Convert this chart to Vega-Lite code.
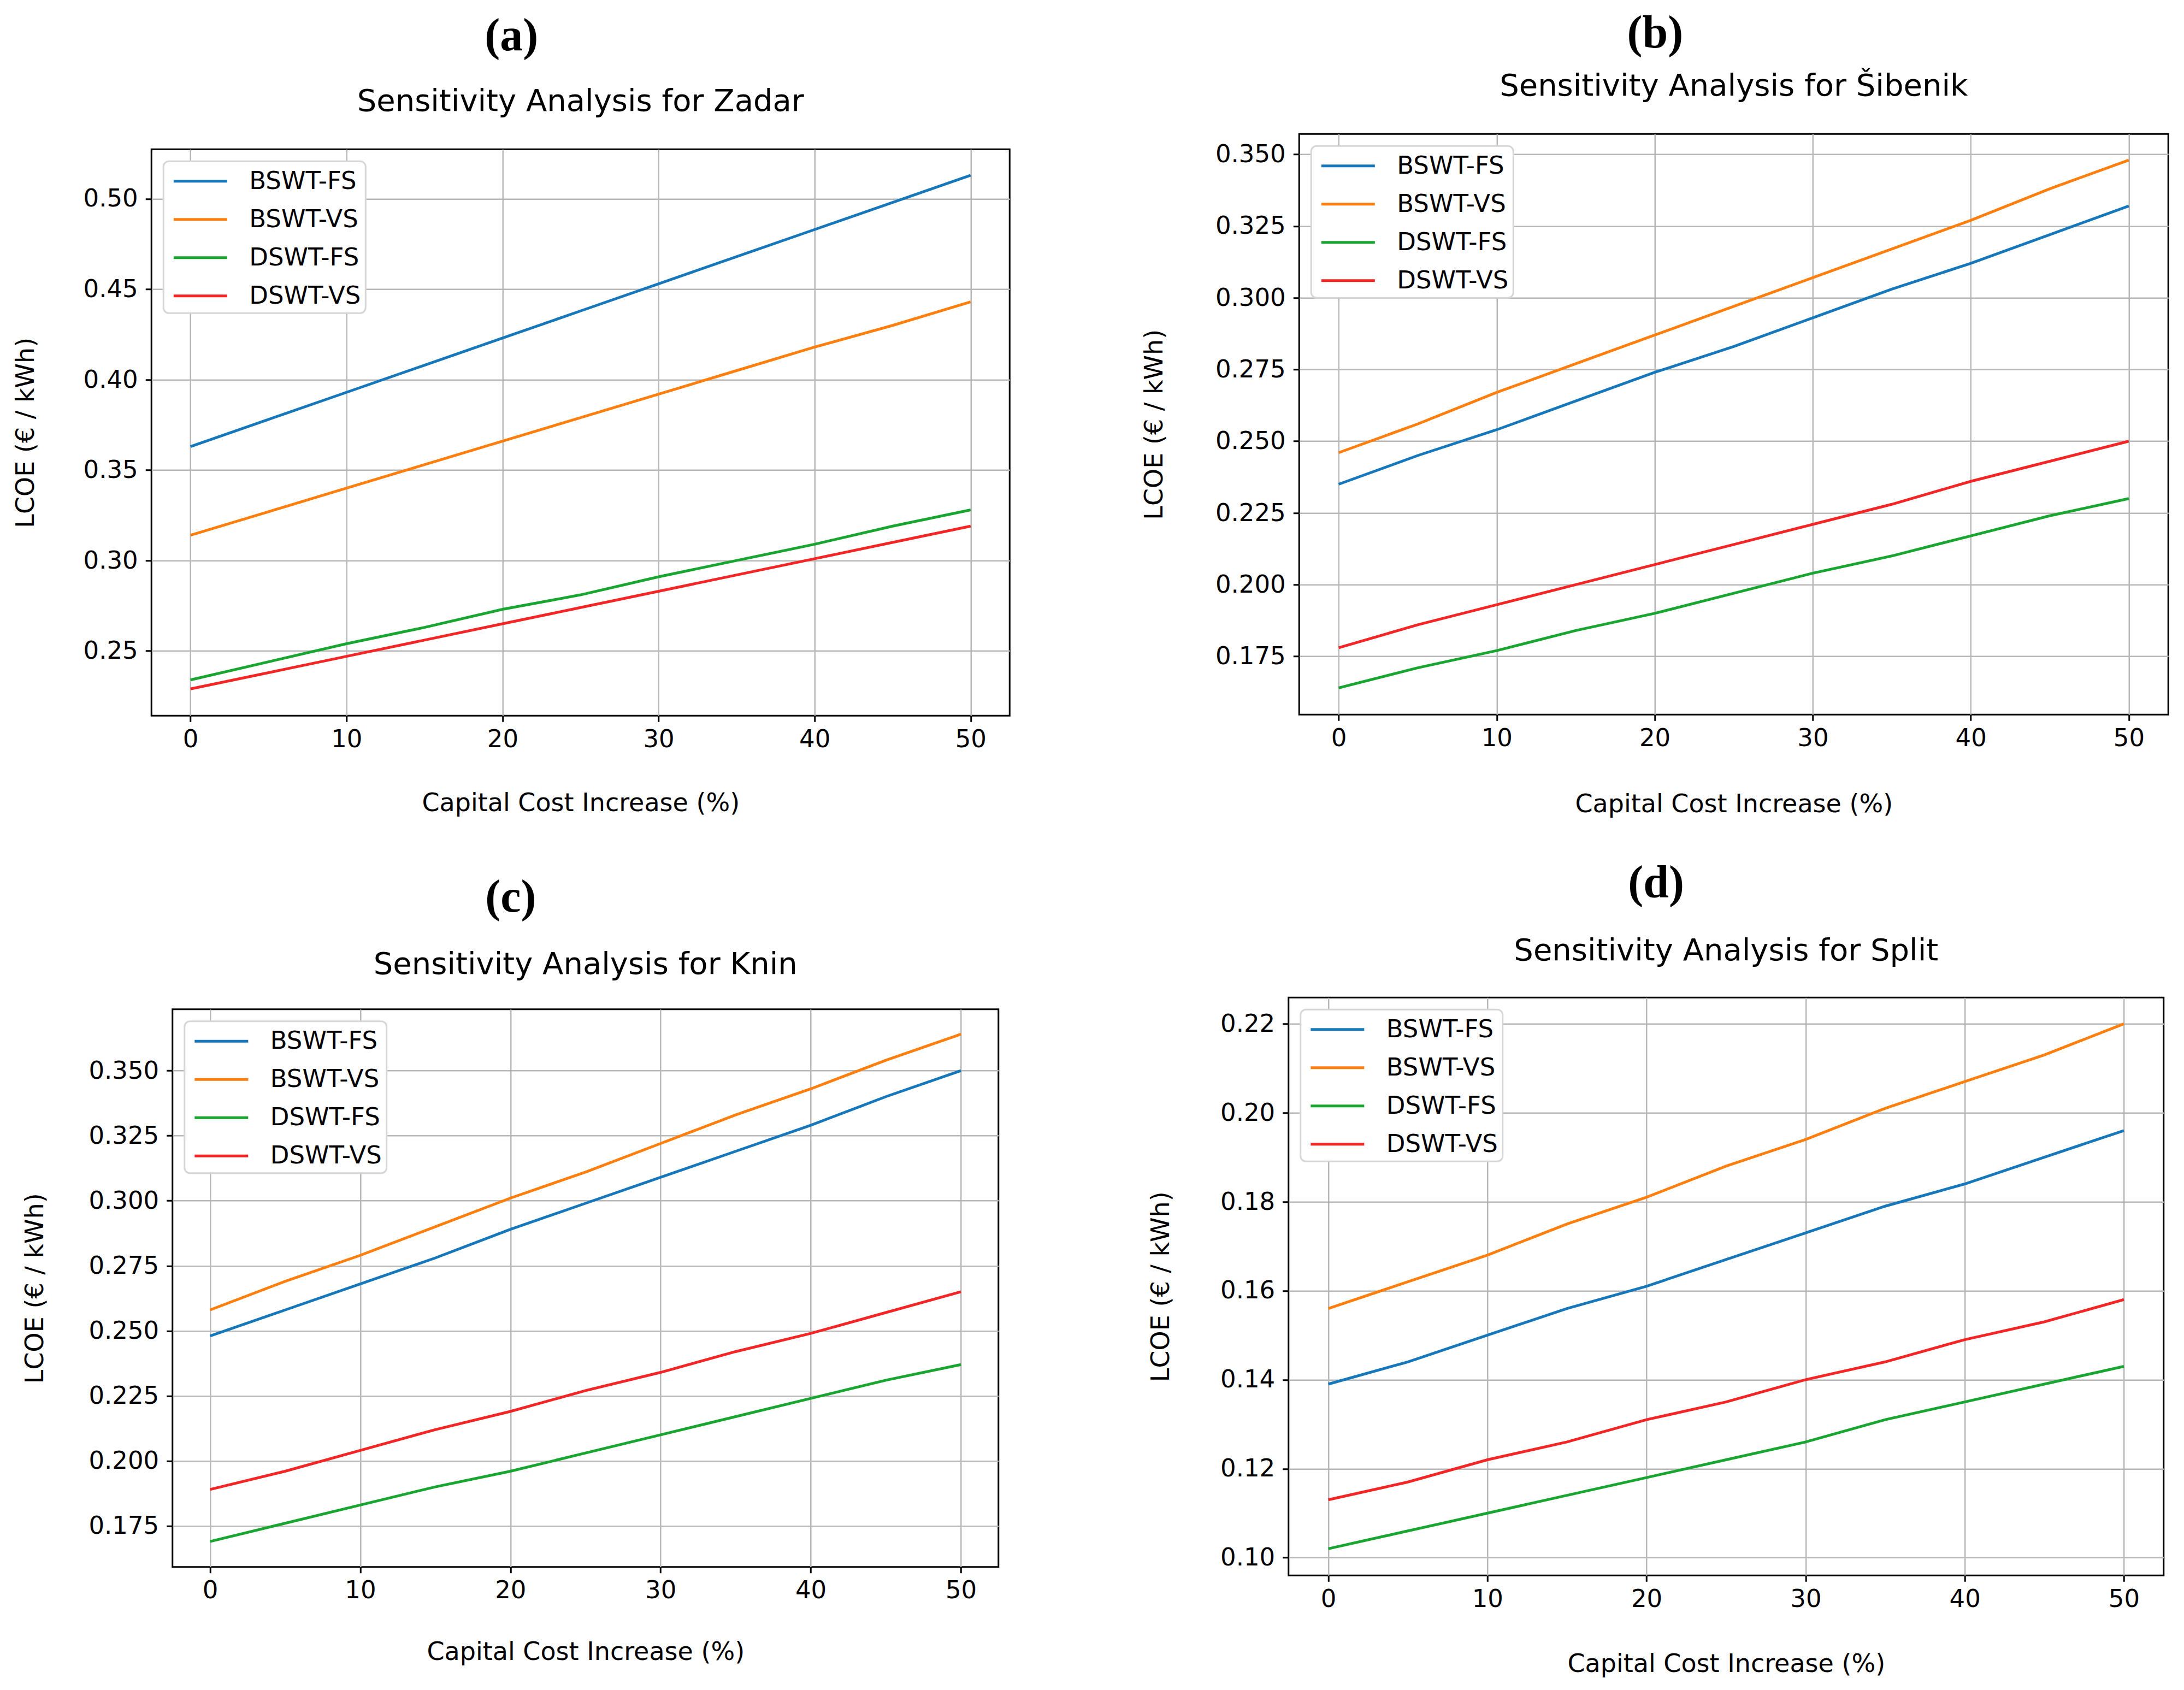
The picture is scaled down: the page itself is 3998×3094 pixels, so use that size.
{
  "$schema": "https://vega.github.io/schema/vega-lite/v6.json",
  "description": "LCOE sensitivity to capital cost increase for four Croatian sites.",
  "background": "#ffffff",
  "padding": {"left": 22, "top": 19, "right": 0, "bottom": 0},
  "config": {
    "font": "DejaVu Sans",
    "view": {"stroke": "#000000", "strokeWidth": 3},
    "axis": {
      "domain": false,
      "grid": true,
      "gridColor": "#b8b8b8",
      "gridWidth": 2.5,
      "tickColor": "#000000",
      "tickSize": 11,
      "tickWidth": 3,
      "labelFont": "DejaVu Sans",
      "labelFontSize": 45,
      "labelColor": "#000000",
      "titleFont": "DejaVu Sans",
      "titleFontSize": 46,
      "titleFontWeight": "normal",
      "titleColor": "#000000"
    },
    "axisX": {"labelPadding": 10, "labelFlush": false, "titlePadding": 70},
    "axisY": {"labelPadding": 14, "labelFlush": false},
    "legend": {
      "orient": "top-left",
      "offset": 22,
      "labelFont": "DejaVu Sans",
      "labelFontSize": 45,
      "labelColor": "#000000",
      "labelLimit": 500,
      "labelOffset": 92,
      "labelExpr": "datum.label + ' '",
      "symbolType": "M-0.69,0L3.08,0",
      "symbolSize": 2704,
      "symbolStrokeWidth": 5,
      "padding": 8,
      "rowPadding": 18,
      "fillColor": "#ffffff",
      "strokeColor": "#d6d6d6",
      "strokeWidth": 3,
      "cornerRadius": 10
    },
    "title": {"font": "DejaVu Sans", "fontSize": 56, "fontWeight": "normal", "color": "#000000", "anchor": "middle"}
  },
  "datasets": {
    "zadar": [
      {"increase": 0, "series": "BSWT-FS", "lcoe": 0.363}, {"increase": 5, "series": "BSWT-FS", "lcoe": 0.378}, {"increase": 10, "series": "BSWT-FS", "lcoe": 0.393}, {"increase": 15, "series": "BSWT-FS", "lcoe": 0.408}, {"increase": 20, "series": "BSWT-FS", "lcoe": 0.423}, {"increase": 25, "series": "BSWT-FS", "lcoe": 0.438}, {"increase": 30, "series": "BSWT-FS", "lcoe": 0.453}, {"increase": 35, "series": "BSWT-FS", "lcoe": 0.468}, {"increase": 40, "series": "BSWT-FS", "lcoe": 0.483}, {"increase": 45, "series": "BSWT-FS", "lcoe": 0.498}, {"increase": 50, "series": "BSWT-FS", "lcoe": 0.513},
      {"increase": 0, "series": "BSWT-VS", "lcoe": 0.314}, {"increase": 5, "series": "BSWT-VS", "lcoe": 0.327}, {"increase": 10, "series": "BSWT-VS", "lcoe": 0.340}, {"increase": 15, "series": "BSWT-VS", "lcoe": 0.353}, {"increase": 20, "series": "BSWT-VS", "lcoe": 0.366}, {"increase": 25, "series": "BSWT-VS", "lcoe": 0.379}, {"increase": 30, "series": "BSWT-VS", "lcoe": 0.392}, {"increase": 35, "series": "BSWT-VS", "lcoe": 0.405}, {"increase": 40, "series": "BSWT-VS", "lcoe": 0.418}, {"increase": 45, "series": "BSWT-VS", "lcoe": 0.430}, {"increase": 50, "series": "BSWT-VS", "lcoe": 0.443},
      {"increase": 0, "series": "DSWT-FS", "lcoe": 0.234}, {"increase": 5, "series": "DSWT-FS", "lcoe": 0.244}, {"increase": 10, "series": "DSWT-FS", "lcoe": 0.254}, {"increase": 15, "series": "DSWT-FS", "lcoe": 0.263}, {"increase": 20, "series": "DSWT-FS", "lcoe": 0.273}, {"increase": 25, "series": "DSWT-FS", "lcoe": 0.281}, {"increase": 30, "series": "DSWT-FS", "lcoe": 0.291}, {"increase": 35, "series": "DSWT-FS", "lcoe": 0.300}, {"increase": 40, "series": "DSWT-FS", "lcoe": 0.309}, {"increase": 45, "series": "DSWT-FS", "lcoe": 0.319}, {"increase": 50, "series": "DSWT-FS", "lcoe": 0.328},
      {"increase": 0, "series": "DSWT-VS", "lcoe": 0.229}, {"increase": 5, "series": "DSWT-VS", "lcoe": 0.238}, {"increase": 10, "series": "DSWT-VS", "lcoe": 0.247}, {"increase": 15, "series": "DSWT-VS", "lcoe": 0.256}, {"increase": 20, "series": "DSWT-VS", "lcoe": 0.265}, {"increase": 25, "series": "DSWT-VS", "lcoe": 0.274}, {"increase": 30, "series": "DSWT-VS", "lcoe": 0.283}, {"increase": 35, "series": "DSWT-VS", "lcoe": 0.292}, {"increase": 40, "series": "DSWT-VS", "lcoe": 0.301}, {"increase": 45, "series": "DSWT-VS", "lcoe": 0.310}, {"increase": 50, "series": "DSWT-VS", "lcoe": 0.319}
    ],
    "sibenik": [
      {"increase": 0, "series": "BSWT-FS", "lcoe": 0.235}, {"increase": 5, "series": "BSWT-FS", "lcoe": 0.245}, {"increase": 10, "series": "BSWT-FS", "lcoe": 0.254}, {"increase": 15, "series": "BSWT-FS", "lcoe": 0.264}, {"increase": 20, "series": "BSWT-FS", "lcoe": 0.274}, {"increase": 25, "series": "BSWT-FS", "lcoe": 0.283}, {"increase": 30, "series": "BSWT-FS", "lcoe": 0.293}, {"increase": 35, "series": "BSWT-FS", "lcoe": 0.303}, {"increase": 40, "series": "BSWT-FS", "lcoe": 0.312}, {"increase": 45, "series": "BSWT-FS", "lcoe": 0.322}, {"increase": 50, "series": "BSWT-FS", "lcoe": 0.332},
      {"increase": 0, "series": "BSWT-VS", "lcoe": 0.246}, {"increase": 5, "series": "BSWT-VS", "lcoe": 0.256}, {"increase": 10, "series": "BSWT-VS", "lcoe": 0.267}, {"increase": 15, "series": "BSWT-VS", "lcoe": 0.277}, {"increase": 20, "series": "BSWT-VS", "lcoe": 0.287}, {"increase": 25, "series": "BSWT-VS", "lcoe": 0.297}, {"increase": 30, "series": "BSWT-VS", "lcoe": 0.307}, {"increase": 35, "series": "BSWT-VS", "lcoe": 0.317}, {"increase": 40, "series": "BSWT-VS", "lcoe": 0.327}, {"increase": 45, "series": "BSWT-VS", "lcoe": 0.338}, {"increase": 50, "series": "BSWT-VS", "lcoe": 0.348},
      {"increase": 0, "series": "DSWT-FS", "lcoe": 0.164}, {"increase": 5, "series": "DSWT-FS", "lcoe": 0.171}, {"increase": 10, "series": "DSWT-FS", "lcoe": 0.177}, {"increase": 15, "series": "DSWT-FS", "lcoe": 0.184}, {"increase": 20, "series": "DSWT-FS", "lcoe": 0.190}, {"increase": 25, "series": "DSWT-FS", "lcoe": 0.197}, {"increase": 30, "series": "DSWT-FS", "lcoe": 0.204}, {"increase": 35, "series": "DSWT-FS", "lcoe": 0.210}, {"increase": 40, "series": "DSWT-FS", "lcoe": 0.217}, {"increase": 45, "series": "DSWT-FS", "lcoe": 0.224}, {"increase": 50, "series": "DSWT-FS", "lcoe": 0.230},
      {"increase": 0, "series": "DSWT-VS", "lcoe": 0.178}, {"increase": 5, "series": "DSWT-VS", "lcoe": 0.186}, {"increase": 10, "series": "DSWT-VS", "lcoe": 0.193}, {"increase": 15, "series": "DSWT-VS", "lcoe": 0.200}, {"increase": 20, "series": "DSWT-VS", "lcoe": 0.207}, {"increase": 25, "series": "DSWT-VS", "lcoe": 0.214}, {"increase": 30, "series": "DSWT-VS", "lcoe": 0.221}, {"increase": 35, "series": "DSWT-VS", "lcoe": 0.228}, {"increase": 40, "series": "DSWT-VS", "lcoe": 0.236}, {"increase": 45, "series": "DSWT-VS", "lcoe": 0.243}, {"increase": 50, "series": "DSWT-VS", "lcoe": 0.250}
    ],
    "knin": [
      {"increase": 0, "series": "BSWT-FS", "lcoe": 0.248}, {"increase": 5, "series": "BSWT-FS", "lcoe": 0.258}, {"increase": 10, "series": "BSWT-FS", "lcoe": 0.268}, {"increase": 15, "series": "BSWT-FS", "lcoe": 0.278}, {"increase": 20, "series": "BSWT-FS", "lcoe": 0.289}, {"increase": 25, "series": "BSWT-FS", "lcoe": 0.299}, {"increase": 30, "series": "BSWT-FS", "lcoe": 0.309}, {"increase": 35, "series": "BSWT-FS", "lcoe": 0.319}, {"increase": 40, "series": "BSWT-FS", "lcoe": 0.329}, {"increase": 45, "series": "BSWT-FS", "lcoe": 0.340}, {"increase": 50, "series": "BSWT-FS", "lcoe": 0.350},
      {"increase": 0, "series": "BSWT-VS", "lcoe": 0.258}, {"increase": 5, "series": "BSWT-VS", "lcoe": 0.269}, {"increase": 10, "series": "BSWT-VS", "lcoe": 0.279}, {"increase": 15, "series": "BSWT-VS", "lcoe": 0.290}, {"increase": 20, "series": "BSWT-VS", "lcoe": 0.301}, {"increase": 25, "series": "BSWT-VS", "lcoe": 0.311}, {"increase": 30, "series": "BSWT-VS", "lcoe": 0.322}, {"increase": 35, "series": "BSWT-VS", "lcoe": 0.333}, {"increase": 40, "series": "BSWT-VS", "lcoe": 0.343}, {"increase": 45, "series": "BSWT-VS", "lcoe": 0.354}, {"increase": 50, "series": "BSWT-VS", "lcoe": 0.364},
      {"increase": 0, "series": "DSWT-FS", "lcoe": 0.169}, {"increase": 5, "series": "DSWT-FS", "lcoe": 0.176}, {"increase": 10, "series": "DSWT-FS", "lcoe": 0.183}, {"increase": 15, "series": "DSWT-FS", "lcoe": 0.190}, {"increase": 20, "series": "DSWT-FS", "lcoe": 0.196}, {"increase": 25, "series": "DSWT-FS", "lcoe": 0.203}, {"increase": 30, "series": "DSWT-FS", "lcoe": 0.210}, {"increase": 35, "series": "DSWT-FS", "lcoe": 0.217}, {"increase": 40, "series": "DSWT-FS", "lcoe": 0.224}, {"increase": 45, "series": "DSWT-FS", "lcoe": 0.231}, {"increase": 50, "series": "DSWT-FS", "lcoe": 0.237},
      {"increase": 0, "series": "DSWT-VS", "lcoe": 0.189}, {"increase": 5, "series": "DSWT-VS", "lcoe": 0.196}, {"increase": 10, "series": "DSWT-VS", "lcoe": 0.204}, {"increase": 15, "series": "DSWT-VS", "lcoe": 0.212}, {"increase": 20, "series": "DSWT-VS", "lcoe": 0.219}, {"increase": 25, "series": "DSWT-VS", "lcoe": 0.227}, {"increase": 30, "series": "DSWT-VS", "lcoe": 0.234}, {"increase": 35, "series": "DSWT-VS", "lcoe": 0.242}, {"increase": 40, "series": "DSWT-VS", "lcoe": 0.249}, {"increase": 45, "series": "DSWT-VS", "lcoe": 0.257}, {"increase": 50, "series": "DSWT-VS", "lcoe": 0.265}
    ],
    "split": [
      {"increase": 0, "series": "BSWT-FS", "lcoe": 0.139}, {"increase": 5, "series": "BSWT-FS", "lcoe": 0.144}, {"increase": 10, "series": "BSWT-FS", "lcoe": 0.150}, {"increase": 15, "series": "BSWT-FS", "lcoe": 0.156}, {"increase": 20, "series": "BSWT-FS", "lcoe": 0.161}, {"increase": 25, "series": "BSWT-FS", "lcoe": 0.167}, {"increase": 30, "series": "BSWT-FS", "lcoe": 0.173}, {"increase": 35, "series": "BSWT-FS", "lcoe": 0.179}, {"increase": 40, "series": "BSWT-FS", "lcoe": 0.184}, {"increase": 45, "series": "BSWT-FS", "lcoe": 0.190}, {"increase": 50, "series": "BSWT-FS", "lcoe": 0.196},
      {"increase": 0, "series": "BSWT-VS", "lcoe": 0.156}, {"increase": 5, "series": "BSWT-VS", "lcoe": 0.162}, {"increase": 10, "series": "BSWT-VS", "lcoe": 0.168}, {"increase": 15, "series": "BSWT-VS", "lcoe": 0.175}, {"increase": 20, "series": "BSWT-VS", "lcoe": 0.181}, {"increase": 25, "series": "BSWT-VS", "lcoe": 0.188}, {"increase": 30, "series": "BSWT-VS", "lcoe": 0.194}, {"increase": 35, "series": "BSWT-VS", "lcoe": 0.201}, {"increase": 40, "series": "BSWT-VS", "lcoe": 0.207}, {"increase": 45, "series": "BSWT-VS", "lcoe": 0.213}, {"increase": 50, "series": "BSWT-VS", "lcoe": 0.220},
      {"increase": 0, "series": "DSWT-FS", "lcoe": 0.102}, {"increase": 5, "series": "DSWT-FS", "lcoe": 0.106}, {"increase": 10, "series": "DSWT-FS", "lcoe": 0.110}, {"increase": 15, "series": "DSWT-FS", "lcoe": 0.114}, {"increase": 20, "series": "DSWT-FS", "lcoe": 0.118}, {"increase": 25, "series": "DSWT-FS", "lcoe": 0.122}, {"increase": 30, "series": "DSWT-FS", "lcoe": 0.126}, {"increase": 35, "series": "DSWT-FS", "lcoe": 0.131}, {"increase": 40, "series": "DSWT-FS", "lcoe": 0.135}, {"increase": 45, "series": "DSWT-FS", "lcoe": 0.139}, {"increase": 50, "series": "DSWT-FS", "lcoe": 0.143},
      {"increase": 0, "series": "DSWT-VS", "lcoe": 0.113}, {"increase": 5, "series": "DSWT-VS", "lcoe": 0.117}, {"increase": 10, "series": "DSWT-VS", "lcoe": 0.122}, {"increase": 15, "series": "DSWT-VS", "lcoe": 0.126}, {"increase": 20, "series": "DSWT-VS", "lcoe": 0.131}, {"increase": 25, "series": "DSWT-VS", "lcoe": 0.135}, {"increase": 30, "series": "DSWT-VS", "lcoe": 0.140}, {"increase": 35, "series": "DSWT-VS", "lcoe": 0.144}, {"increase": 40, "series": "DSWT-VS", "lcoe": 0.149}, {"increase": 45, "series": "DSWT-VS", "lcoe": 0.153}, {"increase": 50, "series": "DSWT-VS", "lcoe": 0.158}
    ]
  },
  "center": true,
  "spacing": 52,
  "resolve": {"scale": {"color": "independent"}, "legend": {"color": "independent"}},
  "vconcat": [
    {
      "title": {"text": " ", "orient": "right", "fontSize": 1, "offset": 29},
      "center": true,
      "spacing": 238,
      "resolve": {"scale": {"color": "independent"}, "legend": {"color": "independent"}},
      "hconcat": [
        {
          "title": {"text": "(a)", "font": "Liberation Serif", "fontWeight": "bold", "fontSize": 84, "anchor": "middle", "frame": "bounds", "offset": 47},
          "resolve": {"scale": {"color": "independent"}, "legend": {"color": "independent"}},
          "vconcat": [
            {
              "width": 1571,
              "height": 1037,
              "title": {"text": "Sensitivity Analysis for Zadar", "frame": "group", "offset": 58},
              "data": {"name": "zadar"},
              "mark": {"type": "line", "strokeWidth": 5, "clip": true},
              "encoding": {
                "x": {"field": "increase", "type": "quantitative", "scale": {"domain": [-2.5, 52.5], "nice": false, "zero": false}, "axis": {"values": [0, 10, 20, 30, 40, 50], "title": "Capital Cost Increase (%)", "titlePadding": 72}},
                "y": {"field": "lcoe", "type": "quantitative", "scale": {"domain": [0.2142, 0.5274], "nice": false, "zero": false}, "axis": {"values": [0.25, 0.3, 0.35, 0.4, 0.45, 0.5], "format": ".2f", "title": "LCOE (€ / kWh)", "titlePadding": 81}},
                "color": {"field": "series", "type": "nominal", "scale": {"domain": ["BSWT-FS", "BSWT-VS", "DSWT-FS", "DSWT-VS"], "range": ["#1777bb", "#ff7f0e", "#18a530", "#f42525"]}, "legend": {"title": null, "rowPadding": 18}}
              }
            }
          ]
        },
        {
          "title": {"text": " ", "orient": "bottom", "fontSize": 1, "offset": 25},
          "resolve": {"scale": {"color": "independent"}, "legend": {"color": "independent"}},
          "vconcat": [
            {
              "title": {"text": "(b)", "font": "Liberation Serif", "fontWeight": "bold", "fontSize": 84, "anchor": "middle", "frame": "bounds", "offset": 24},
              "resolve": {"scale": {"color": "independent"}, "legend": {"color": "independent"}},
              "vconcat": [
                {
                  "width": 1591,
                  "height": 1063,
                  "title": {"text": "Sensitivity Analysis for Šibenik", "frame": "group", "offset": 58},
                  "data": {"name": "sibenik"},
                  "mark": {"type": "line", "strokeWidth": 5, "clip": true},
                  "encoding": {
                    "x": {"field": "increase", "type": "quantitative", "scale": {"domain": [-2.5, 52.5], "nice": false, "zero": false}, "axis": {"values": [0, 10, 20, 30, 40, 50], "title": "Capital Cost Increase (%)", "titlePadding": 76}},
                    "y": {"field": "lcoe", "type": "quantitative", "scale": {"domain": [0.1547, 0.3571], "nice": false, "zero": false}, "axis": {"values": [0.175, 0.2, 0.225, 0.25, 0.275, 0.3, 0.325, 0.35], "format": ".3f", "title": "LCOE (€ / kWh)", "titlePadding": 87}},
                    "color": {"field": "series", "type": "nominal", "scale": {"domain": ["BSWT-FS", "BSWT-VS", "DSWT-FS", "DSWT-VS"], "range": ["#1777bb", "#ff7f0e", "#18a530", "#f42525"]}, "legend": {"title": null, "rowPadding": 18}}
                  }
                }
              ]
            }
          ]
        }
      ]
    },
    {
      "title": {"text": " ", "orient": "left", "fontSize": 1, "offset": 13},
      "center": true,
      "spacing": 271,
      "resolve": {"scale": {"color": "independent"}, "legend": {"color": "independent"}},
      "hconcat": [
        {
          "title": {"text": "(c)", "font": "Liberation Serif", "fontWeight": "bold", "fontSize": 84, "anchor": "middle", "frame": "bounds", "offset": 49},
          "resolve": {"scale": {"color": "independent"}, "legend": {"color": "independent"}},
          "vconcat": [
            {
              "width": 1512,
              "height": 1021,
              "title": {"text": "Sensitivity Analysis for Knin", "frame": "group", "offset": 53},
              "data": {"name": "knin"},
              "mark": {"type": "line", "strokeWidth": 5, "clip": true},
              "encoding": {
                "x": {"field": "increase", "type": "quantitative", "scale": {"domain": [-2.5, 52.5], "nice": false, "zero": false}, "axis": {"values": [0, 10, 20, 30, 40, 50], "title": "Capital Cost Increase (%)", "titlePadding": 68}},
                "y": {"field": "lcoe", "type": "quantitative", "scale": {"domain": [0.1592, 0.3736], "nice": false, "zero": false}, "axis": {"values": [0.175, 0.2, 0.225, 0.25, 0.275, 0.3, 0.325, 0.35], "format": ".3f", "title": "LCOE (€ / kWh)", "titlePadding": 73}},
                "color": {"field": "series", "type": "nominal", "scale": {"domain": ["BSWT-FS", "BSWT-VS", "DSWT-FS", "DSWT-VS"], "range": ["#1777bb", "#ff7f0e", "#18a530", "#f42525"]}, "legend": {"title": null, "rowPadding": 18}}
              }
            }
          ]
        },
        {
          "title": {"text": "(d)", "font": "Liberation Serif", "fontWeight": "bold", "fontSize": 84, "anchor": "middle", "frame": "bounds", "offset": 51},
          "resolve": {"scale": {"color": "independent"}, "legend": {"color": "independent"}},
          "vconcat": [
            {
              "width": 1602,
              "height": 1058,
              "title": {"text": "Sensitivity Analysis for Split", "frame": "group", "offset": 56},
              "data": {"name": "split"},
              "mark": {"type": "line", "strokeWidth": 5, "clip": true},
              "encoding": {
                "x": {"field": "increase", "type": "quantitative", "scale": {"domain": [-2.5, 52.5], "nice": false, "zero": false}, "axis": {"values": [0, 10, 20, 30, 40, 50], "title": "Capital Cost Increase (%)", "titlePadding": 74}},
                "y": {"field": "lcoe", "type": "quantitative", "scale": {"domain": [0.096, 0.2259], "nice": false, "zero": false}, "axis": {"values": [0.1, 0.12, 0.14, 0.16, 0.18, 0.2, 0.22], "format": ".2f", "title": "LCOE (€ / kWh)", "titlePadding": 84}},
                "color": {"field": "series", "type": "nominal", "scale": {"domain": ["BSWT-FS", "BSWT-VS", "DSWT-FS", "DSWT-VS"], "range": ["#1777bb", "#ff7f0e", "#18a530", "#f42525"]}, "legend": {"title": null, "rowPadding": 18}}
              }
            }
          ]
        }
      ]
    }
  ]
}
